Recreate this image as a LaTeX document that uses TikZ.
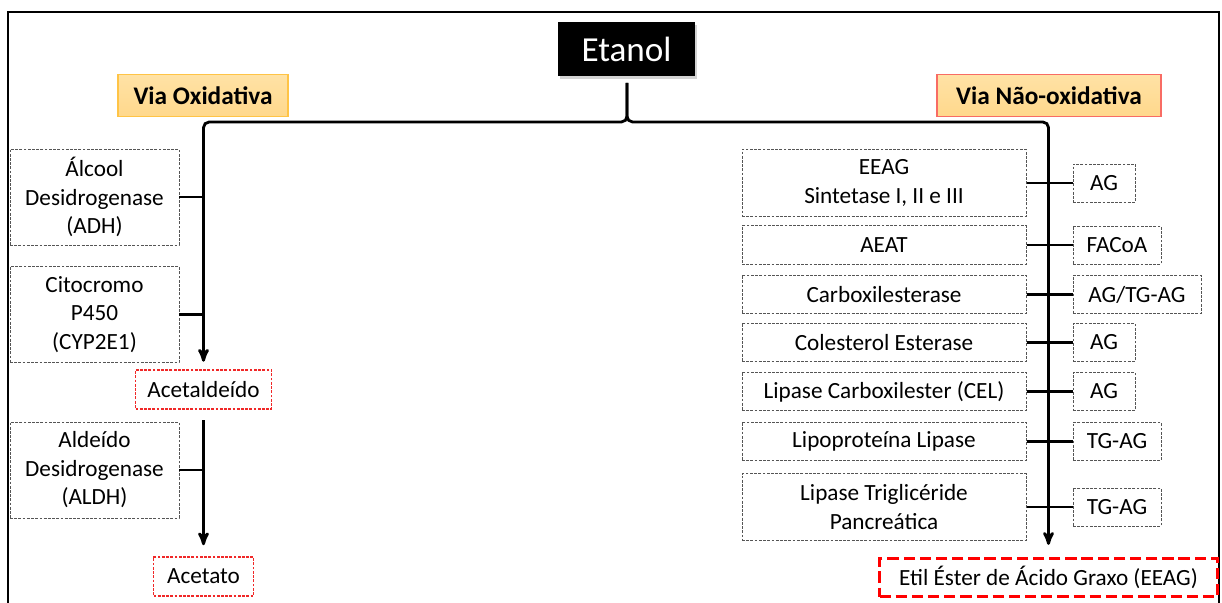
\documentclass[tikz,border=0pt]{standalone}
\usepackage{fontspec}
\setmainfont{Carlito}
\usetikzlibrary{arrows,shadows}
\newcommand{\pxu}{0.025cm}
\definecolor{viafill}{RGB}{255,216,140}
\definecolor{viatop}{RGB}{255,226,165}
\definecolor{oxiline}{RGB}{255,196,70}
\definecolor{naoline}{RGB}{248,108,100}
\definecolor{dashgray}{RGB}{85,85,85}
\definecolor{prodred}{RGB}{240,40,40}
\tikzset{
  bw/.style = {minimum width=#1*\pxu},
  bh/.style = {minimum height=#1*\pxu},
  txt/.style = {align=center, inner sep=0pt, text centered,
    font=\fontsize{16.5pt}{20.3pt}\selectfont},
  enz/.style = {txt, rectangle, draw=dashgray, line width=0.7pt,
    dash pattern=on 2pt off 1pt},% enzima / substrato
  prod/.style = {txt, rectangle, draw=prodred, line width=0.8pt,
    dash pattern=on 2pt off 1pt},% produto
  eeagbox/.style = {txt, rectangle, draw=red, line width=2.1pt,
    dash pattern=on 8pt off 3.5pt},
  viabox/.style = {txt, rectangle, line width=0.8pt, top color=viatop,
    bottom color=viafill, font=\bfseries\fontsize{18pt}{22pt}\selectfont},
  etanolbox/.style = {rectangle, fill=black, text=white, inner sep=0pt,
    font=\fontsize{25pt}{30pt}\selectfont,
    drop shadow={shadow xshift=1.5pt, shadow yshift=-1.5pt, opacity=0.35}},
  conn/.style = {line width=2pt, black},
  frame/.style = {line width=1.4pt, black}
}
\begin{document}
\begin{tikzpicture}[x=\pxu, y=-\pxu, >=stealth']
\useasboundingbox (0,0) rectangle (1222,603);
\draw[frame] (8,604) -- (8,12) -- (1219,12) -- (1219,604);

\node[etanolbox, bw=137, bh=54] (etanol) at (626.5,49.5) {Etanol};
\node[viabox, draw=oxiline, bw=170, bh=42] (viaoxi) at (203,95.5) {Via Oxidativa};
\node[viabox, draw=naoline, bw=224, bh=42] (vianao) at (1049,95.5) {Via Não-oxidativa};

% via oxidativa
\node[enz, bw=169, bh=96] (adh) at (94.5,197) {Álcool\\Desidrogenase\\(ADH)};
\node[enz, bw=169, bh=96] (cyp) at (94.5,314.5) {Citocromo\\P450\\(CYP2E1)};
\node[prod, bw=136, bh=39] (acetaldeido) at (203.5,389.5) {Acetaldeído};
\node[enz, bw=169, bh=96] (aldh) at (94.5,470) {Aldeído\\Desidrogenase\\(ALDH)};
\node[prod, bw=100, bh=39] (acetato) at (203.5,576.5) {Acetato};

% via nao-oxidativa
\node[enz, bw=284, bh=67] (eeags) at (884,183) {EEAG\\Sintetase I, II e III};
\node[enz, bw=284, bh=38.5] (aeat) at (884,245) {AEAT};
\node[enz, bw=284, bh=38.5] (carbox) at (884,294.5) {Carboxilesterase};
\node[enz, bw=284, bh=38.5] (colest) at (884,342.5) {Colesterol Esterase};
\node[enz, bw=284, bh=38.5] (cel) at (884,391.5) {Lipase Carboxilester (CEL)};
\node[enz, bw=284, bh=38.5] (lpl) at (884,441.5) {Lipoproteína Lipase};
\node[enz, bw=284, bh=67] (ltp) at (884,507) {Lipase Triglicéride\\Pancreática};

\node[enz, anchor=west, bw=62, bh=38] (ag1) at (1072.5,183) {AG};
\node[enz, anchor=west, bw=88, bh=38] (facoa) at (1072.5,245) {FACoA};
\node[enz, anchor=west, bw=128, bh=38] (agtg) at (1072.5,294.5) {AG/TG-AG};
\node[enz, anchor=west, bw=62, bh=38] (ag2) at (1072.5,342.5) {AG};
\node[enz, anchor=west, bw=62, bh=38] (ag3) at (1072.5,391.5) {AG};
\node[enz, anchor=west, bw=88, bh=38] (tgag1) at (1072.5,441.5) {TG-AG};
\node[enz, anchor=west, bw=88, bh=38] (tgag2) at (1072.5,507) {TG-AG};

\node[eeagbox, bw=338, bh=38.5] (eeag) at (1048.5,577.5) {Etil Éster de Ácido Graxo (EEAG)};

% chave
\coordinate (stem) at (627,83);
\coordinate (tip) at (627,122);
\draw[conn, ->, rounded corners=4pt, shorten >=5.5pt]
  (stem) -- (tip) -| (acetaldeido.north);
\draw[conn, ->, rounded corners=4pt, shorten >=8.5pt]
  (stem) -- (tip) -| (eeag.north);
\draw[conn, ->, shorten <=7.5pt, shorten >=8pt] (acetaldeido.south) -- (acetato.north);

\draw[conn] (adh.east) -- (adh.east -| acetaldeido.north);
\draw[conn] (cyp.east) -- (cyp.east -| acetaldeido.north);
\draw[conn] (aldh.east) -- (aldh.east -| acetato.north);

\draw[conn] (eeags.east) -- (ag1.west);
\draw[conn] (aeat.east) -- (facoa.west);
\draw[conn] (carbox.east) -- (agtg.west);
\draw[conn] (colest.east) -- (ag2.west);
\draw[conn] (cel.east) -- (ag3.west);
\draw[conn] (lpl.east) -- (tgag1.west);
\draw[conn] (ltp.east) -- (tgag2.west);
\end{tikzpicture}
\end{document}
